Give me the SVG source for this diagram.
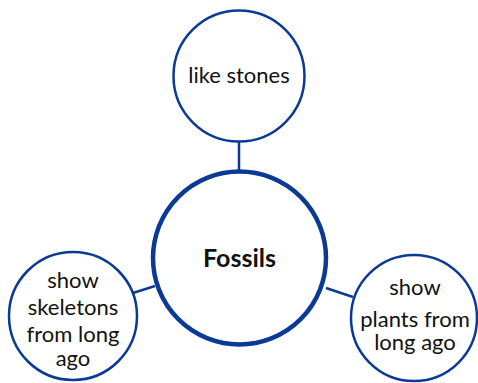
<svg xmlns="http://www.w3.org/2000/svg" width="478" height="383" viewBox="0 0 478 383">
<style>
.c{fill:#fff;stroke:#0b3a96;stroke-width:2.5}
.m{fill:#fff;stroke:#0b3a96;stroke-width:4.5}
.l{stroke:#0b3a96;stroke-width:2.5;fill:none}
text{font-family:Lato,"Open Sans",sans-serif;font-size:22px;fill:#111;text-anchor:middle}
.b{font-weight:bold;font-size:25px}
</style>
<rect width="478" height="383" fill="#fff"/>
<g id="connectors">
<line class="l" x1="239" y1="142" x2="239" y2="172"/>
<line class="l" x1="133" y1="293" x2="155" y2="286"/>
<line class="l" x1="326" y1="288" x2="353" y2="297"/>
</g>
<g id="top"><circle class="c" cx="239" cy="76" r="65.5"/><text x="239" y="83">like stones</text></g>
<g id="main"><circle class="m" cx="239.5" cy="258" r="86.5"/><text class="b" x="239.5" y="267">Fossils</text></g>
<g id="left"><circle class="c" cx="73" cy="316" r="64"/>
<text x="73" y="288">show</text><text x="73" y="315">skeletons</text><text x="73" y="342">from long</text><text x="73" y="366">ago</text></g>
<g id="right"><circle class="c" cx="414" cy="318" r="63"/>
<text x="415" y="295">show</text><text x="415" y="327">plants from</text><text x="415" y="350">long ago</text></g>
</svg>
